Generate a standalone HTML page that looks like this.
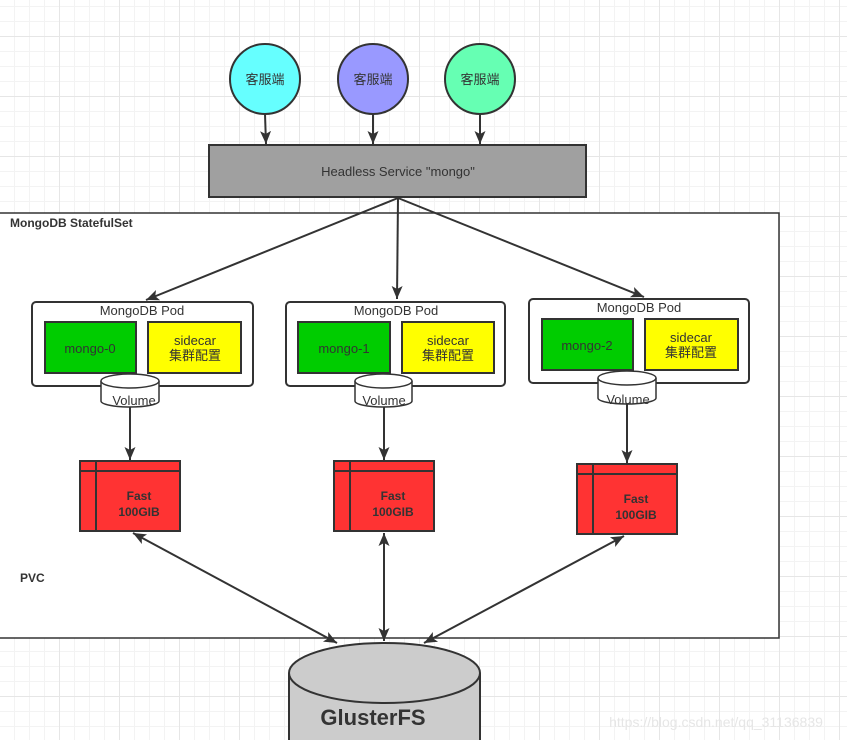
<!DOCTYPE html>
<html><head><meta charset="utf-8"><style>
html,body{margin:0;padding:0;background:#fff;width:847px;height:740px;overflow:hidden}
svg{display:block}
text{font-family:"Liberation Sans","Noto Sans CJK SC",sans-serif;fill:#333}
</style></head><body>
<svg width="847" height="740" viewBox="0 0 847 740" xmlns="http://www.w3.org/2000/svg">
<defs>
<pattern id="g" x="14" y="6" width="60" height="60" patternUnits="userSpaceOnUse">
<path d="M0.5 0V60M15.5 0V60M30.5 0V60M0 0.5H60M0 15.5H60M0 45.5H60" stroke="#f3f3f3" stroke-width="1"/>
<path d="M45.5 0V60M0 30.5H60" stroke="#e6e6e6" stroke-width="1"/>
</pattern>
<marker id="a" markerWidth="14" markerHeight="14" refX="13" refY="7" orient="auto" markerUnits="userSpaceOnUse"><path d="M0 1.5L13 7L0 12.5L3 7Z" fill="#333"/></marker>
<marker id="s" markerWidth="14" markerHeight="14" refX="1" refY="7" orient="auto" markerUnits="userSpaceOnUse"><path d="M14 1.5L1 7L14 12.5L11 7Z" fill="#333"/></marker>
</defs>
<rect width="847" height="740" fill="url(#g)"/>
<rect x="-1" y="213" width="780" height="425" fill="#fff" stroke="#333" stroke-width="1.5"/>
<text x="10" y="227" font-size="12" font-weight="bold">MongoDB StatefulSet</text>
<text x="20" y="582" font-size="12" font-weight="bold">PVC</text>
<g stroke="#333" stroke-width="2">
<circle cx="265" cy="79" r="35" fill="#66ffff"/>
<circle cx="373" cy="79" r="35" fill="#9999ff"/>
<circle cx="480" cy="79" r="35" fill="#66ffb3"/>
<rect x="209" y="145" width="377" height="52" fill="#a0a0a0"/>
</g>
<g font-size="13" text-anchor="middle">
<text x="265" y="84">客服端</text><text x="373" y="84">客服端</text><text x="480" y="84">客服端</text>
<text x="398" y="176">Headless Service "mongo"</text>
</g>
<g stroke="#333" stroke-width="2" fill="none" marker-end="url(#a)">
<line x1="265" y1="114" x2="266" y2="144"/>
<line x1="373" y1="114" x2="373" y2="144"/>
<line x1="480" y1="114" x2="480" y2="144"/>
<line x1="398" y1="198" x2="146" y2="300"/>
<line x1="398" y1="198" x2="397" y2="299"/>
<line x1="398" y1="198" x2="644" y2="297"/>
<line x1="130" y1="407" x2="130" y2="460"/>
<line x1="384" y1="407" x2="384" y2="460"/>
<line x1="627" y1="404" x2="627" y2="463"/>
<line x1="133" y1="533" x2="337" y2="643" marker-start="url(#s)"/>
<line x1="384" y1="533" x2="384" y2="641" marker-start="url(#s)"/>
<line x1="624" y1="536" x2="424" y2="643" marker-start="url(#s)"/>
</g>
<g stroke="#333" stroke-width="2">
<rect x="32" y="302" width="221" height="84" rx="4" fill="#fff"/>
<rect x="45" y="322" width="91" height="51" fill="#00cc00"/>
<rect x="148" y="322" width="93" height="51" fill="#ffff00"/>
<rect x="286" y="302" width="219" height="84" rx="4" fill="#fff"/>
<rect x="298" y="322" width="92" height="51" fill="#00cc00"/>
<rect x="402" y="322" width="92" height="51" fill="#ffff00"/>
<rect x="529" y="299" width="220" height="84" rx="4" fill="#fff"/>
<rect x="542" y="319" width="91" height="51" fill="#00cc00"/>
<rect x="645" y="319" width="93" height="51" fill="#ffff00"/>
</g>
<g stroke="#333" stroke-width="1.5" fill="#fff">
<path d="M101 381V401A29 6 0 0 0 159 401V381"/><ellipse cx="130" cy="381" rx="29" ry="7"/>
<path d="M355 381V401A28.5 6 0 0 0 412 401V381"/><ellipse cx="383.5" cy="381" rx="28.5" ry="7"/>
<path d="M598 378V398A29 6 0 0 0 656 398V378"/><ellipse cx="627" cy="378" rx="29" ry="7"/>
</g>
<g font-size="13" text-anchor="middle">
<text x="142" y="315">MongoDB Pod</text><text x="90" y="353">mongo-0</text><text x="195" y="345">sidecar</text><text x="195" y="360">集群配置</text><text x="134" y="405">Volume</text>
<text x="396" y="315">MongoDB Pod</text><text x="344" y="353">mongo-1</text><text x="448" y="345">sidecar</text><text x="448" y="360">集群配置</text><text x="384" y="405">Volume</text>
<text x="639" y="312">MongoDB Pod</text><text x="587" y="350">mongo-2</text><text x="691" y="342">sidecar</text><text x="691" y="357">集群配置</text><text x="628" y="404">Volume</text>
</g>
<g stroke="#333" stroke-width="2" fill="#ff3333">
<rect x="80" y="461" width="100" height="70"/><path d="M80 471H180M96 461V531" fill="none"/>
<rect x="334" y="461" width="100" height="70"/><path d="M334 471H434M350 461V531" fill="none"/>
<rect x="577" y="464" width="100" height="70"/><path d="M577 474H677M593 464V534" fill="none"/>
</g>
<g font-size="12" font-weight="bold" text-anchor="middle">
<text x="139" y="500">Fast</text><text x="139" y="516">100GIB</text>
<text x="393" y="500">Fast</text><text x="393" y="516">100GIB</text>
<text x="636" y="503">Fast</text><text x="636" y="519">100GIB</text>
</g>
<g stroke="#333" stroke-width="2" fill="#cccccc">
<path d="M289 673V750H480V673"/>
<ellipse cx="384.5" cy="673" rx="95.5" ry="30"/>
</g>
<text x="373" y="725" font-size="22" font-weight="bold" text-anchor="middle">GlusterFS</text>
<text x="716" y="727" font-size="14" text-anchor="middle" style="fill:#e6e6e6">https://blog.csdn.net/qq_31136839</text>
</svg>
</body></html>
